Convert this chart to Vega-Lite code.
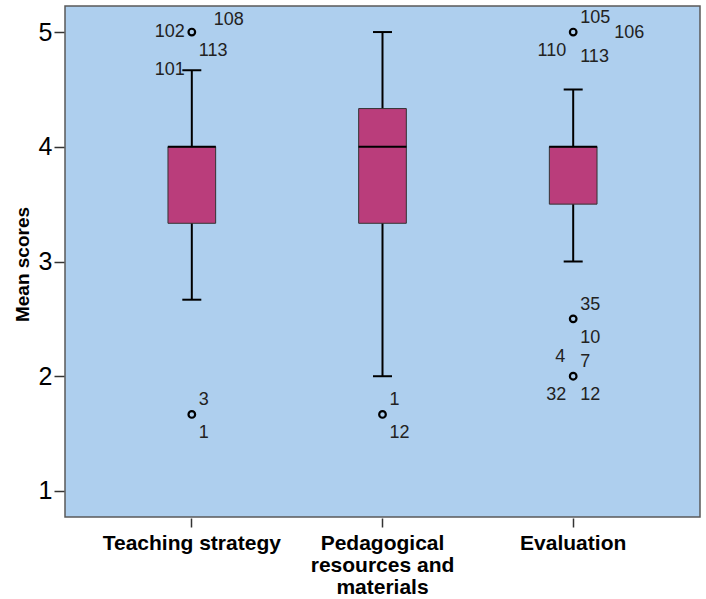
{
  "$schema": "https://vega.github.io/schema/vega-lite/v6.json",
  "width": 635,
  "height": 511,
  "autosize": {"type": "none"},
  "padding": {"left": 65, "top": 6, "right": 6, "bottom": 82},
  "background": "white",
  "config": {
    "view": {"fill": "#AECFEE", "stroke": "#5a5a5a", "strokeWidth": 1.5},
    "font": "Liberation Sans"
  },
  "datasets": {
    "stats": [
      {"cat": "Teaching strategy", "lower": 2.667, "q1": 3.333, "median": 4, "q3": 4, "upper": 4.667},
      {"cat": "Pedagogical resources and materials", "lower": 2, "q1": 3.333, "median": 4, "q3": 4.333, "upper": 5},
      {"cat": "Evaluation", "lower": 3, "q1": 3.5, "median": 4, "q3": 4, "upper": 4.5}
    ],
    "outliers": [
      {"cat": "Teaching strategy", "value": 5},
      {"cat": "Teaching strategy", "value": 1.667},
      {"cat": "Pedagogical resources and materials", "value": 1.667},
      {"cat": "Evaluation", "value": 5},
      {"cat": "Evaluation", "value": 2.5},
      {"cat": "Evaluation", "value": 2}
    ],
    "labels": [
      {"cat": "Teaching strategy", "value": 5, "label": "102", "pos": "l"},
      {"cat": "Teaching strategy", "value": 5, "label": "108", "pos": "ur2"},
      {"cat": "Teaching strategy", "value": 5, "label": "113", "pos": "lr"},
      {"cat": "Teaching strategy", "value": 4.667, "label": "101", "pos": "l"},
      {"cat": "Teaching strategy", "value": 1.667, "label": "3", "pos": "ur"},
      {"cat": "Teaching strategy", "value": 1.667, "label": "1", "pos": "lr"},
      {"cat": "Pedagogical resources and materials", "value": 1.667, "label": "1", "pos": "ur"},
      {"cat": "Pedagogical resources and materials", "value": 1.667, "label": "12", "pos": "lr"},
      {"cat": "Evaluation", "value": 5, "label": "105", "pos": "ur"},
      {"cat": "Evaluation", "value": 5, "label": "106", "pos": "r2"},
      {"cat": "Evaluation", "value": 5, "label": "110", "pos": "ll"},
      {"cat": "Evaluation", "value": 5, "label": "113", "pos": "lr2"},
      {"cat": "Evaluation", "value": 2.5, "label": "35", "pos": "ur"},
      {"cat": "Evaluation", "value": 2.5, "label": "10", "pos": "lr"},
      {"cat": "Evaluation", "value": 2, "label": "4", "pos": "ul"},
      {"cat": "Evaluation", "value": 2, "label": "7", "pos": "ur"},
      {"cat": "Evaluation", "value": 2, "label": "32", "pos": "ll"},
      {"cat": "Evaluation", "value": 2, "label": "12", "pos": "lr"}
    ]
  },
  "layer": [
    {
      "data": {"name": "stats"},
      "mark": {"type": "rule", "color": "black", "strokeWidth": 2},
      "encoding": {
        "x": {
          "field": "cat", "type": "nominal",
          "sort": ["Teaching strategy", "Pedagogical resources and materials", "Evaluation"],
          "scale": {"paddingInner": 0.75, "paddingOuter": 0.54},
          "axis": {
            "title": null, "labelAngle": 0, "domain": false, "offset": 1,
            "tickSize": 9, "tickColor": "#333", "tickWidth": 1.5,
            "labelFontSize": 21, "labelFontWeight": "bold", "labelColor": "black",
            "labelLineHeight": 22, "labelPadding": 5, "labelBaseline": "top",
            "labelExpr": "datum.value == 'Pedagogical resources and materials' ? ['Pedagogical', 'resources and', 'materials'] : datum.value"
          }
        },
        "y": {
          "field": "lower", "type": "quantitative",
          "scale": {"domain": [0.773, 5.227], "nice": false, "zero": false},
          "axis": {
            "title": "Mean scores", "values": [1, 2, 3, 4, 5], "format": "d", "grid": false, "domain": false,
            "offset": 1, "tickSize": 10, "tickColor": "#333", "tickWidth": 1.5,
            "labelFontSize": 25, "labelColor": "black", "labelPadding": 2,
            "titleFontSize": 19, "titleFontWeight": "bold", "titleColor": "black",
            "titleX": -42, "titleY": 258, "titleBaseline": "middle", "titleAngle": -90
          }
        },
        "y2": {"field": "upper"}
      }
    },
    {
      "data": {"name": "stats"},
      "mark": {"type": "bar", "fill": "#BA3D7B", "stroke": "#333", "strokeWidth": 1},
      "encoding": {
        "x": {"field": "cat", "type": "nominal", "sort": ["Teaching strategy", "Pedagogical resources and materials", "Evaluation"]},
        "y": {"field": "q1", "type": "quantitative"},
        "y2": {"field": "q3"}
      }
    },
    {
      "data": {"name": "stats"},
      "mark": {"type": "tick", "color": "black", "thickness": 2, "size": 48, "opacity": 1},
      "encoding": {
        "x": {"field": "cat", "type": "nominal", "sort": ["Teaching strategy", "Pedagogical resources and materials", "Evaluation"]},
        "y": {"field": "median", "type": "quantitative"}
      }
    },
    {
      "data": {"name": "stats"},
      "mark": {"type": "tick", "color": "black", "thickness": 2, "size": 19, "opacity": 1},
      "encoding": {
        "x": {"field": "cat", "type": "nominal", "sort": ["Teaching strategy", "Pedagogical resources and materials", "Evaluation"]},
        "y": {"field": "upper", "type": "quantitative"}
      }
    },
    {
      "data": {"name": "stats"},
      "mark": {"type": "tick", "color": "black", "thickness": 2, "size": 19, "opacity": 1},
      "encoding": {
        "x": {"field": "cat", "type": "nominal", "sort": ["Teaching strategy", "Pedagogical resources and materials", "Evaluation"]},
        "y": {"field": "lower", "type": "quantitative"}
      }
    },
    {
      "data": {"name": "outliers"},
      "mark": {"type": "point", "shape": "circle", "filled": false, "stroke": "black", "strokeWidth": 2.2, "size": 44, "opacity": 1},
      "encoding": {
        "x": {"field": "cat", "type": "nominal", "sort": ["Teaching strategy", "Pedagogical resources and materials", "Evaluation"]},
        "y": {"field": "value", "type": "quantitative"}
      }
    },
    {
      "data": {"name": "labels"},
      "transform": [{"filter": "datum.pos == 'ur'"}],
      "mark": {"type": "text", "align": "left", "baseline": "middle", "dx": 7, "dy": -14, "fontSize": 18, "color": "#222"},
      "encoding": {
        "x": {"field": "cat", "type": "nominal", "sort": ["Teaching strategy", "Pedagogical resources and materials", "Evaluation"]},
        "y": {"field": "value", "type": "quantitative"},
        "text": {"field": "label"}
      }
    },
    {
      "data": {"name": "labels"},
      "transform": [{"filter": "datum.pos == 'lr'"}],
      "mark": {"type": "text", "align": "left", "baseline": "middle", "dx": 7, "dy": 19, "fontSize": 18, "color": "#222"},
      "encoding": {
        "x": {"field": "cat", "type": "nominal", "sort": ["Teaching strategy", "Pedagogical resources and materials", "Evaluation"]},
        "y": {"field": "value", "type": "quantitative"},
        "text": {"field": "label"}
      }
    },
    {
      "data": {"name": "labels"},
      "transform": [{"filter": "datum.pos == 'lr2'"}],
      "mark": {"type": "text", "align": "left", "baseline": "middle", "dx": 7, "dy": 25, "fontSize": 18, "color": "#222"},
      "encoding": {
        "x": {"field": "cat", "type": "nominal", "sort": ["Teaching strategy", "Pedagogical resources and materials", "Evaluation"]},
        "y": {"field": "value", "type": "quantitative"},
        "text": {"field": "label"}
      }
    },
    {
      "data": {"name": "labels"},
      "transform": [{"filter": "datum.pos == 'l'"}],
      "mark": {"type": "text", "align": "right", "baseline": "middle", "dx": -7, "dy": 0, "fontSize": 18, "color": "#222"},
      "encoding": {
        "x": {"field": "cat", "type": "nominal", "sort": ["Teaching strategy", "Pedagogical resources and materials", "Evaluation"]},
        "y": {"field": "value", "type": "quantitative"},
        "text": {"field": "label"}
      }
    },
    {
      "data": {"name": "labels"},
      "transform": [{"filter": "datum.pos == 'll'"}],
      "mark": {"type": "text", "align": "right", "baseline": "middle", "dx": -7, "dy": 19, "fontSize": 18, "color": "#222"},
      "encoding": {
        "x": {"field": "cat", "type": "nominal", "sort": ["Teaching strategy", "Pedagogical resources and materials", "Evaluation"]},
        "y": {"field": "value", "type": "quantitative"},
        "text": {"field": "label"}
      }
    },
    {
      "data": {"name": "labels"},
      "transform": [{"filter": "datum.pos == 'ul'"}],
      "mark": {"type": "text", "align": "right", "baseline": "middle", "dx": -8, "dy": -19, "fontSize": 18, "color": "#222"},
      "encoding": {
        "x": {"field": "cat", "type": "nominal", "sort": ["Teaching strategy", "Pedagogical resources and materials", "Evaluation"]},
        "y": {"field": "value", "type": "quantitative"},
        "text": {"field": "label"}
      }
    },
    {
      "data": {"name": "labels"},
      "transform": [{"filter": "datum.pos == 'ur2'"}],
      "mark": {"type": "text", "align": "left", "baseline": "middle", "dx": 22, "dy": -12, "fontSize": 18, "color": "#222"},
      "encoding": {
        "x": {"field": "cat", "type": "nominal", "sort": ["Teaching strategy", "Pedagogical resources and materials", "Evaluation"]},
        "y": {"field": "value", "type": "quantitative"},
        "text": {"field": "label"}
      }
    },
    {
      "data": {"name": "labels"},
      "transform": [{"filter": "datum.pos == 'r2'"}],
      "mark": {"type": "text", "align": "left", "baseline": "middle", "dx": 41, "dy": 1, "fontSize": 18, "color": "#222"},
      "encoding": {
        "x": {"field": "cat", "type": "nominal", "sort": ["Teaching strategy", "Pedagogical resources and materials", "Evaluation"]},
        "y": {"field": "value", "type": "quantitative"},
        "text": {"field": "label"}
      }
    }
  ]
}
